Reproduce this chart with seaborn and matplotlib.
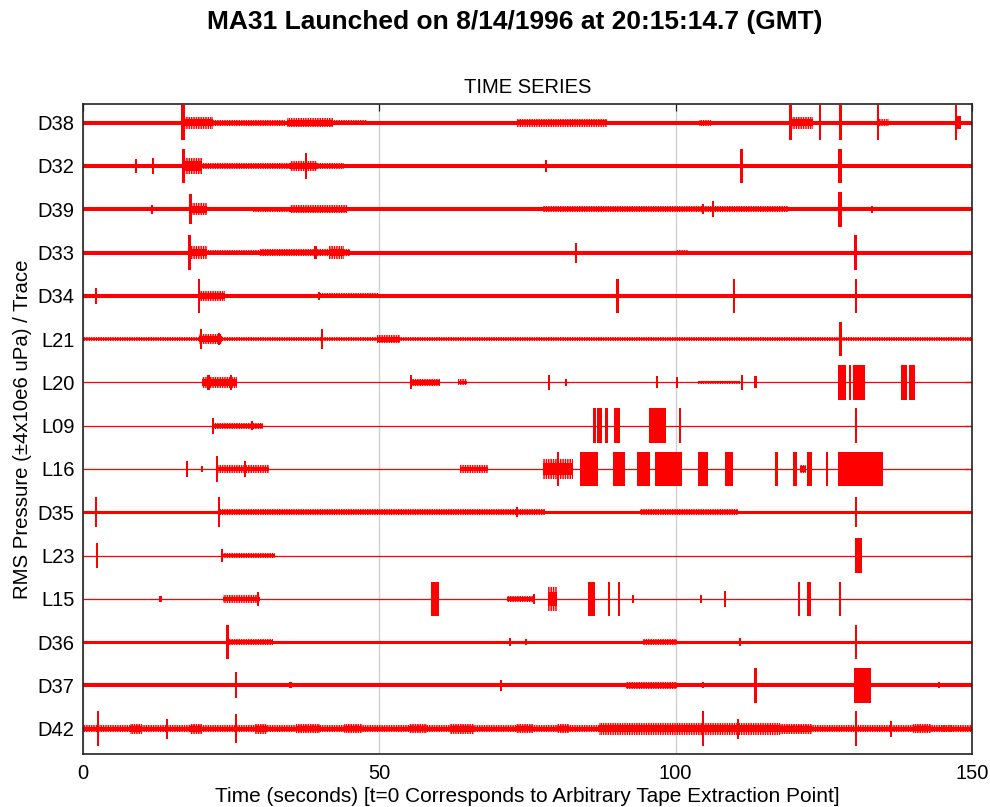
import matplotlib
matplotlib.use("Agg")
import matplotlib.pyplot as plt
from matplotlib.patches import Rectangle
import seaborn as sns
import pandas as pd

# ---------------- data ----------------
trace_labels = ["D38", "D32", "D39", "D33", "D34", "L21", "L20", "L09",
                "L16", "D35", "L23", "L15", "D36", "D37", "D42"]
trace_positions = [15, 14, 13, 12, 11, 10, 9, 8, 7, 6, 5, 4, 3, 2, 1]
# baseline thickness class of each trace (D = dense noise, L = quiet)
trace_kind = ["D", "D", "D", "D", "D", "S", "L", "L", "L", "M", "L", "L", "M", "D", "W"]

x_ticks = [0, 50, 100, 150]

# events: (start s, end s, half-amplitude in trace-spacing units)
D38_events = [(16.6, 17.2, 0.40), (17.2, 22.0, 0.14), (22.0, 34.0, 0.07), (34.4, 42.2, 0.11),
              (42.2, 48.0, 0.06), (73.2, 88.4, 0.09), (104.0, 106.0, 0.07),
              (119.2, 119.6, 0.40), (119.6, 123.2, 0.14), (124.2, 124.5, 0.40),
              (127.5, 128.0, 0.40), (133.9, 134.2, 0.40), (134.2, 136.0, 0.08),
              (147.1, 147.5, 0.40), (147.5, 148.2, 0.15)]
D32_events = [(8.7, 8.9, 0.16), (11.6, 11.8, 0.18), (16.7, 17.2, 0.40), (17.2, 20.0, 0.18),
              (20.0, 44.0, 0.08), (35.0, 39.5, 0.12), (37.4, 37.8, 0.30), (78.0, 78.3, 0.14),
              (110.9, 111.3, 0.40), (127.4, 128.0, 0.40)]
D39_events = [(11.5, 11.8, 0.10), (17.9, 18.4, 0.35), (18.4, 21.0, 0.14), (28.7, 35.0, 0.06),
              (35.0, 44.5, 0.09), (77.6, 119.0, 0.07), (104.4, 104.6, 0.12), (106.2, 106.5, 0.18),
              (127.4, 128.0, 0.40), (133.0, 133.2, 0.08)]
D33_events = [(17.8, 18.3, 0.40), (18.3, 21.0, 0.14), (21.0, 29.9, 0.05), (29.9, 45.0, 0.09),
              (39.0, 39.4, 0.16), (41.5, 44.0, 0.14), (83.0, 83.3, 0.23), (100.0, 102.0, 0.05),
              (130.1, 130.6, 0.40)]
D34_events = [(2.0, 2.2, 0.18), (19.4, 19.8, 0.40), (19.8, 24.0, 0.12), (39.6, 39.9, 0.09),
              (39.9, 50.0, 0.06), (90.0, 90.4, 0.40), (109.6, 109.9, 0.40), (130.2, 130.6, 0.40)]
L21_events = [(0.0, 150.0, 0.04), (19.5, 23.5, 0.12), (19.8, 20.0, 0.23), (22.7, 22.9, 0.14),
              (40.2, 40.4, 0.23), (49.6, 53.5, 0.10), (127.5, 128.0, 0.40)]
L20_events = [(20.0, 25.9, 0.13), (21.0, 21.2, 0.18), (24.8, 25.0, 0.18), (55.1, 55.3, 0.16),
              (55.5, 60.2, 0.09), (63.3, 64.8, 0.07), (78.5, 78.7, 0.18), (81.3, 81.5, 0.09),
              (96.6, 96.8, 0.14), (100.0, 100.2, 0.12), (103.8, 110.9, 0.04), (111.0, 111.2, 0.18),
              (113.3, 113.5, 0.14), (127.4, 128.8, 0.40), (129.3, 129.6, 0.40), (130.0, 131.9, 0.40),
              (138.1, 139.0, 0.40), (139.4, 140.4, 0.40)]
L09_events = [(21.8, 22.1, 0.18), (22.1, 30.4, 0.07), (28.4, 28.7, 0.10), (86.0, 86.5, 0.40),
              (86.8, 87.6, 0.40), (88.0, 88.6, 0.40), (89.6, 90.6, 0.40), (95.5, 98.4, 0.40),
              (100.6, 100.8, 0.40), (130.2, 130.5, 0.40)]
L16_events = [(17.4, 17.6, 0.18), (19.9, 20.1, 0.07), (22.4, 22.6, 0.30), (22.6, 31.3, 0.09),
              (27.2, 27.5, 0.18), (63.6, 68.3, 0.09), (77.6, 82.7, 0.22), (80.0, 80.2, 0.40),
              (83.9, 86.9, 0.40), (89.4, 91.4, 0.40), (93.5, 95.7, 0.40), (96.5, 101.1, 0.40),
              (103.8, 105.5, 0.40), (108.3, 109.7, 0.40), (116.8, 117.3, 0.40), (119.8, 120.5, 0.40),
              (121.0, 122.0, 0.10), (122.2, 123.0, 0.40), (125.4, 125.6, 0.40), (127.4, 135.0, 0.40)]
D35_events = [(2.0, 2.3, 0.35), (22.8, 23.2, 0.35), (23.2, 78.0, 0.07), (73.1, 73.4, 0.12),
              (94.0, 110.5, 0.07), (130.2, 130.6, 0.35)]
L23_events = [(2.2, 2.4, 0.28), (23.3, 23.6, 0.16), (23.6, 32.4, 0.05), (130.2, 131.4, 0.40)]
L15_events = [(12.9, 13.1, 0.07), (23.6, 29.9, 0.09), (29.3, 29.6, 0.16), (58.8, 60.0, 0.40),
              (71.5, 76.0, 0.07), (75.9, 76.1, 0.12), (78.5, 80.0, 0.28), (85.2, 86.4, 0.40),
              (88.5, 88.7, 0.40), (90.2, 90.4, 0.40), (92.7, 92.9, 0.09), (104.1, 104.3, 0.09),
              (108.2, 108.4, 0.18), (120.6, 120.8, 0.40), (122.1, 122.9, 0.40), (127.6, 127.9, 0.40)]
D36_events = [(24.2, 24.6, 0.40), (24.6, 32.0, 0.07), (71.8, 72.0, 0.09), (74.5, 74.7, 0.07),
              (94.5, 100.2, 0.07), (110.7, 110.9, 0.09), (130.2, 130.5, 0.40)]
D37_events = [(25.7, 26.0, 0.30), (34.8, 35.2, 0.07), (70.3, 70.6, 0.12), (91.7, 100.2, 0.09),
              (104.4, 104.6, 0.07), (113.3, 113.6, 0.40), (130.1, 133.0, 0.40), (144.2, 144.4, 0.07)]
D42_events = [(0.0, 150.0, 0.08), (2.3, 2.5, 0.40), (8.0, 10.0, 0.12), (14.0, 14.2, 0.23),
              (18.0, 20.0, 0.12), (25.7, 26.0, 0.33), (29.0, 31.0, 0.12), (36.0, 40.0, 0.10),
              (44.0, 47.0, 0.10), (55.0, 58.0, 0.10), (62.0, 66.0, 0.12), (73.0, 76.0, 0.10),
              (80.0, 82.0, 0.10), (87.0, 117.6, 0.14), (104.4, 104.7, 0.40), (110.4, 110.6, 0.23),
              (117.6, 123.0, 0.12), (130.2, 130.5, 0.40), (136.1, 136.3, 0.18), (140.0, 143.0, 0.10),
              (145.0, 147.0, 0.08)]

all_events = [D38_events, D32_events, D39_events, D33_events, D34_events, L21_events,
              L20_events, L09_events, L16_events, D35_events, L23_events, L15_events,
              D36_events, D37_events, D42_events]

# ---------------- styling ----------------
sns.set_style("white")
plt.rcParams["font.family"] = ["Liberation Sans", "DejaVu Sans"]
plt.rcParams["text.color"] = "black"
plt.rcParams["axes.labelcolor"] = "black"
plt.rcParams["hatch.linewidth"] = 1.1
plt.rcParams["hatch.color"] = "#ff0000"
RED = "#ff0000"
base_lw = {"D": 2.9, "M": 2.2, "W": 3.0, "S": 1.5, "L": 0.9}

fig = plt.figure(figsize=(9.9, 8.07), dpi=100)
ax = fig.add_axes([83 / 990, 1 - 754 / 807, (972 - 83) / 990, (754 - 104.3) / 807])

# baselines drawn with seaborn
for lab, pos, kind in zip(trace_labels, trace_positions, trace_kind):
    df = pd.DataFrame({"t": [0, 150], "y": [pos, pos]})
    sns.lineplot(data=df, x="t", y="y", ax=ax, color=RED, linewidth=base_lw[kind],
                 solid_capstyle="butt", zorder=3)

# bursts / spikes
for pos, events in zip(trace_positions, all_events):
    for t0, t1, a in events:
        w = t1 - t0
        if w < 0.8 or a >= 0.3:
            # single spike or a saturated burst: solid
            ax.add_patch(Rectangle((t0, pos - a), max(w, 0.35), 2 * a, facecolor=RED,
                                   edgecolor="none", zorder=4))
        else:
            # noise band: solid core with vertical hatching reaching the full amplitude
            ax.add_patch(Rectangle((t0, pos - 0.6 * a), w, 1.2 * a, facecolor=RED,
                                   edgecolor="none", zorder=4))
            ax.add_patch(Rectangle((t0, pos - a), w, 2 * a, facecolor="none",
                                   edgecolor=RED, linewidth=0, hatch="|" * 7, zorder=4))

ax.set_xlim(0, 150)
ax.set_ylim(0.416, 15.425)
ax.set_xticks(x_ticks)
ax.set_xticklabels([str(v) for v in x_ticks])
ax.set_yticks(trace_positions)
ax.set_yticklabels(trace_labels)

ax.grid(axis="x", color="#d0d0d0", linewidth=1.0, zorder=0)
ax.grid(axis="y", visible=False)
ax.set_axisbelow(True)

for s in ax.spines.values():
    s.set_visible(True)
    s.set_color("#222222")
    s.set_linewidth(1.2)
    s.set_zorder(5)

ax.tick_params(axis="both", direction="in", length=5, width=0.9, color="#222222",
               labelsize=14.5, top=True, right=True, labelcolor="black")
ax.tick_params(axis="y", pad=6)
ax.tick_params(axis="x", pad=7)

ax.set_xlabel("Time (seconds) [t=0 Corresponds to Arbitrary Tape Extraction Point]",
              fontsize=15, labelpad=3)
ax.set_ylabel("RMS Pressure (\u00b14x10e6 uPa) / Trace", fontsize=14.7, labelpad=4)
ax.set_title("TIME SERIES", fontsize=14.5, pad=8)

fig.text(514.5 / 990, 1 - 22 / 807, "MA31 Launched on 8/14/1996 at 20:15:14.7 (GMT)",
         ha="center", va="center", fontsize=19, fontweight="bold", color="black")

fig.savefig("out.png", dpi=100)
